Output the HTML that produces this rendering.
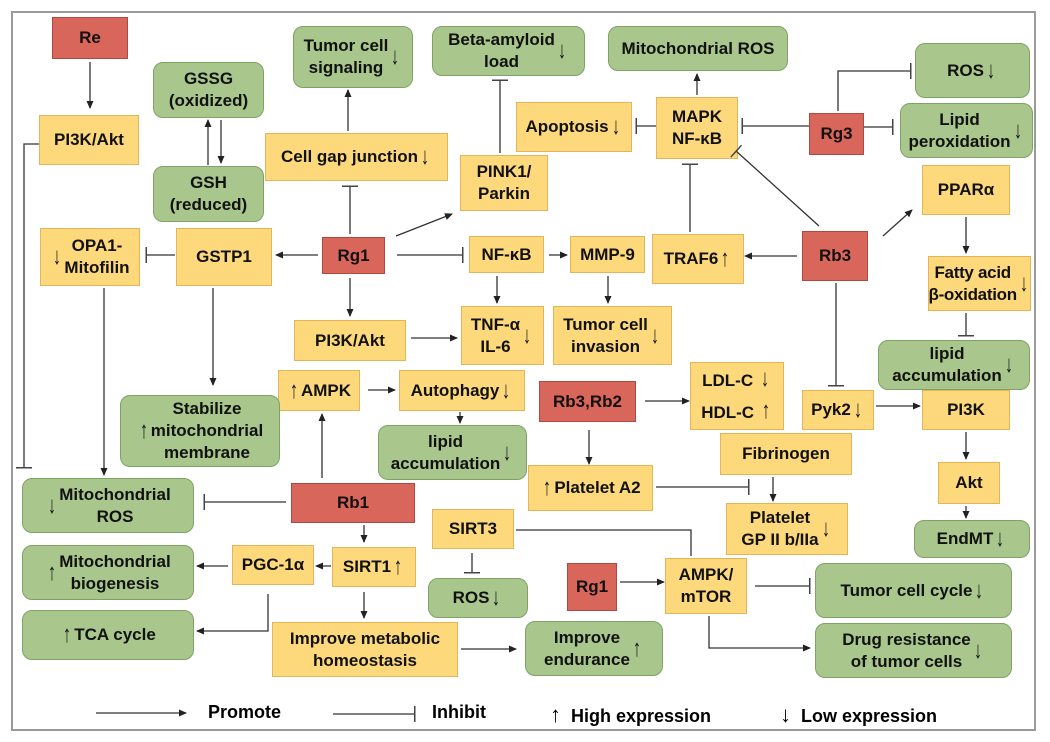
<!DOCTYPE html>
<html><head><meta charset="utf-8"><style>
body{margin:0;background:#fff;}
#c{position:relative;width:1050px;height:742px;overflow:hidden;font-family:"Liberation Sans",sans-serif;}
.f{position:absolute;left:11px;top:11px;width:1025px;height:720px;border:2px solid #9a9a9a;box-sizing:border-box;}
.b{position:absolute;box-sizing:border-box;display:flex;align-items:center;justify-content:center;text-align:center;font-weight:bold;font-size:17px;line-height:22px;color:#111;white-space:nowrap;}
.y{background:#fdd97c;border:1.5px solid #e4b45a;}
.g{background:#a9c78c;border:1.5px solid #7fa266;border-radius:10px;}
.r{background:#d9665a;border:1.5px solid #b04a40;}
.a{font-weight:normal;font-size:24px;margin:0 1px;display:inline-block;transform:scaleX(0.7);color:#111;}
svg{position:absolute;left:0;top:0;}
.l{position:absolute;font-weight:bold;font-size:18px;top:702px;}
</style></head><body><div id="c">
<div class="f"></div>
<div class="b r" style="left:52px;top:17px;width:76px;height:42px">Re</div>
<div class="b y" style="left:39px;top:115px;width:100px;height:50px">PI3K/Akt</div>
<div class="b g" style="left:153px;top:62px;width:111px;height:56px">GSSG<br>(oxidized)</div>
<div class="b g" style="left:153px;top:166px;width:111px;height:56px">GSH<br>(reduced)</div>
<div class="b g" style="left:293px;top:26px;width:120px;height:62px">Tumor cell<br>signaling <span class="a">↓</span></div>
<div class="b y" style="left:265px;top:133px;width:183px;height:48px">Cell gap junction<span class="a">↓</span></div>
<div class="b g" style="left:432px;top:26px;width:153px;height:50px">Beta-amyloid<br>load <span class="a">↓</span></div>
<div class="b y" style="left:460px;top:155px;width:88px;height:56px">PINK1/<br>Parkin</div>
<div class="b g" style="left:608px;top:26px;width:180px;height:45px">Mitochondrial ROS</div>
<div class="b y" style="left:516px;top:102px;width:116px;height:50px">Apoptosis<span class="a">↓</span></div>
<div class="b y" style="left:656px;top:97px;width:82px;height:62px">MAPK<br>NF-κB</div>
<div class="b r" style="left:809px;top:113px;width:55px;height:42px">Rg3</div>
<div class="b g" style="left:915px;top:43px;width:115px;height:55px">ROS <span class="a">↓</span></div>
<div class="b g" style="left:900px;top:103px;width:133px;height:55px">Lipid<br>peroxidation<span class="a">↓</span></div>
<div class="b y" style="left:922px;top:165px;width:88px;height:50px">PPARα</div>
<div class="b y" style="left:40px;top:228px;width:100px;height:58px"><span class="a">↓</span>OPA1-<br>Mitofilin</div>
<div class="b y" style="left:176px;top:228px;width:96px;height:58px">GSTP1</div>
<div class="b r" style="left:322px;top:237px;width:63px;height:37px">Rg1</div>
<div class="b y" style="left:469px;top:236px;width:75px;height:37px">NF-κB</div>
<div class="b y" style="left:570px;top:236px;width:75px;height:37px">MMP-9</div>
<div class="b y" style="left:652px;top:234px;width:92px;height:50px">TRAF6<span class="a">↑</span></div>
<div class="b r" style="left:802px;top:231px;width:66px;height:50px">Rb3</div>
<div class="b y" style="left:928px;top:256px;width:103px;height:55px;letter-spacing:-0.3px">Fatty acid<br>β-oxidation<span class="a">↓</span></div>
<div class="b y" style="left:294px;top:320px;width:112px;height:41px">PI3K/Akt</div>
<div class="b y" style="left:461px;top:306px;width:83px;height:59px">TNF-α<br>IL-6<span class="a">↓</span></div>
<div class="b y" style="left:553px;top:306px;width:119px;height:59px">Tumor cell<br>invasion<span class="a">↓</span></div>
<div class="b g" style="left:878px;top:340px;width:152px;height:50px">lipid<br>accumulation<span class="a">↓</span></div>
<div class="b y" style="left:278px;top:370px;width:82px;height:41px"><span class="a">↑</span>AMPK</div>
<div class="b y" style="left:399px;top:370px;width:126px;height:41px">Autophagy<span class="a">↓</span></div>
<div class="b r" style="left:539px;top:381px;width:97px;height:41px">Rb3,Rb2</div>
<div class="b y" style="left:690px;top:362px;width:94px;height:68px"><div style="line-height:30px">LDL-C <span class="a">↓</span><br>HDL-C <span class="a">↑</span></div></div>
<div class="b y" style="left:802px;top:390px;width:72px;height:40px">Pyk2<span class="a">↓</span></div>
<div class="b y" style="left:922px;top:390px;width:88px;height:40px">PI3K</div>
<div class="b g" style="left:120px;top:395px;width:160px;height:72px"><span class="a">↑</span>Stabilize<br>mitochondrial<br>membrane</div>
<div class="b g" style="left:378px;top:425px;width:149px;height:55px">lipid<br>accumulation<span class="a">↓</span></div>
<div class="b y" style="left:720px;top:433px;width:132px;height:42px">Fibrinogen</div>
<div class="b y" style="left:528px;top:465px;width:125px;height:46px"><span class="a">↑</span> Platelet A2</div>
<div class="b y" style="left:938px;top:462px;width:62px;height:42px">Akt</div>
<div class="b g" style="left:22px;top:478px;width:172px;height:55px"><span class="a">↓</span>Mitochondrial<br>ROS</div>
<div class="b r" style="left:291px;top:483px;width:124px;height:40px">Rb1</div>
<div class="b y" style="left:726px;top:503px;width:122px;height:52px">Platelet<br>GP II b/IIa <span class="a">↓</span></div>
<div class="b y" style="left:432px;top:509px;width:82px;height:40px">SIRT3</div>
<div class="b g" style="left:914px;top:520px;width:116px;height:38px">EndMT<span class="a">↓</span></div>
<div class="b y" style="left:232px;top:545px;width:82px;height:40px">PGC-1α</div>
<div class="b y" style="left:332px;top:547px;width:84px;height:40px">SIRT1<span class="a">↑</span></div>
<div class="b g" style="left:22px;top:545px;width:172px;height:55px"><span class="a">↑</span>Mitochondrial<br>biogenesis</div>
<div class="b g" style="left:428px;top:578px;width:100px;height:40px">ROS <span class="a">↓</span></div>
<div class="b r" style="left:567px;top:563px;width:50px;height:48px">Rg1</div>
<div class="b y" style="left:665px;top:558px;width:82px;height:56px">AMPK/<br>mTOR</div>
<div class="b g" style="left:815px;top:563px;width:197px;height:55px">Tumor cell cycle <span class="a">↓</span></div>
<div class="b g" style="left:22px;top:610px;width:172px;height:50px"><span class="a">↑</span> TCA cycle</div>
<div class="b y" style="left:272px;top:622px;width:186px;height:55px">Improve metabolic<br>homeostasis</div>
<div class="b g" style="left:525px;top:621px;width:138px;height:55px">Improve<br>endurance <span class="a">↑</span></div>
<div class="b g" style="left:815px;top:623px;width:197px;height:55px">Drug resistance<br>of tumor cells <span class="a">↓</span></div>
<svg width="1050" height="742" viewBox="0 0 1050 742">
<defs><marker id="m" markerWidth="8" markerHeight="8" refX="7" refY="4" orient="auto" markerUnits="userSpaceOnUse"><path d="M0,0.5L8,4L0,7.5z" fill="#222"/></marker>
<marker id="t" markerWidth="2" markerHeight="16" refX="1" refY="8" orient="auto" markerUnits="userSpaceOnUse"><rect x="0" y="0" width="1.5" height="16" fill="#444"/></marker></defs>
<g stroke="#333" stroke-width="1.3" fill="none">
<path d="M90,62V108" marker-end="url(#m)"/>
<path d="M39,144H24V468" marker-end="url(#t)"/>
<path d="M208,165V120" marker-end="url(#m)"/>
<path d="M221,120V163" marker-end="url(#m)"/>
<path d="M348,131V90" marker-end="url(#m)"/>
<path d="M350,234V186" marker-end="url(#t)"/>
<path d="M396,236L452,214" marker-end="url(#m)"/>
<path d="M500,153V80" marker-end="url(#t)"/>
<path d="M697,95V74" marker-end="url(#m)"/>
<path d="M656,126H636" marker-end="url(#t)"/>
<path d="M809,126H742" marker-end="url(#t)"/>
<path d="M838,111V71H911" marker-end="url(#t)"/>
<path d="M864,127H893" marker-end="url(#t)"/>
<path d="M819,226L736,151" marker-end="url(#t)"/>
<path d="M883,236L912,210" marker-end="url(#m)"/>
<path d="M690,232V164" marker-end="url(#t)"/>
<path d="M797,256H745" marker-end="url(#m)"/>
<path d="M966,217V253" marker-end="url(#m)"/>
<path d="M966,313V336" marker-end="url(#t)"/>
<path d="M836,283V386" marker-end="url(#t)"/>
<path d="M876,406H920" marker-end="url(#m)"/>
<path d="M966,432V459" marker-end="url(#m)"/>
<path d="M966,506V518" marker-end="url(#m)"/>
<path d="M318,255H276" marker-end="url(#m)"/>
<path d="M175,255H146" marker-end="url(#t)"/>
<path d="M104,288V475" marker-end="url(#m)"/>
<path d="M213,288V385" marker-end="url(#m)"/>
<path d="M397,255H463" marker-end="url(#t)"/>
<path d="M549,255H567" marker-end="url(#m)"/>
<path d="M497,276V303" marker-end="url(#m)"/>
<path d="M608,276V303" marker-end="url(#m)"/>
<path d="M350,278V316" marker-end="url(#m)"/>
<path d="M411,338H457" marker-end="url(#m)"/>
<path d="M368,390H395" marker-end="url(#m)"/>
<path d="M460,412V423" marker-end="url(#m)"/>
<path d="M322,478V414" marker-end="url(#m)"/>
<path d="M286,502H204" marker-end="url(#t)"/>
<path d="M364,525V542" marker-end="url(#m)"/>
<path d="M331,566H316" marker-end="url(#m)"/>
<path d="M228,566H197" marker-end="url(#m)"/>
<path d="M268,594V631H197" marker-end="url(#m)"/>
<path d="M364,592V618" marker-end="url(#m)"/>
<path d="M461,649H516" marker-end="url(#m)"/>
<path d="M645,401H689" marker-end="url(#m)"/>
<path d="M589,430V464" marker-end="url(#m)"/>
<path d="M656,487H749" marker-end="url(#t)"/>
<path d="M773,477V501" marker-end="url(#m)"/>
<path d="M516,530H691V556"/>
<path d="M472,553V573" marker-end="url(#t)"/>
<path d="M620,582H664" marker-end="url(#m)"/>
<path d="M755,586H810" marker-end="url(#t)"/>
<path d="M709,616V648H810" marker-end="url(#m)"/>
<path d="M96,713H186" marker-end="url(#m)"/>
<path d="M333,714H415" marker-end="url(#t)"/>
</g></svg>
<div class="l" style="left:208px">Promote</div>
<div class="l" style="left:432px">Inhibit</div>
<div class="l" style="left:550px"><span style="font-weight:normal;font-size:22px">↑</span>&nbsp;&nbsp;High expression</div>
<div class="l" style="left:780px"><span style="font-weight:normal;font-size:22px">↓</span>&nbsp;&nbsp;Low expression</div>
</div></body></html>
